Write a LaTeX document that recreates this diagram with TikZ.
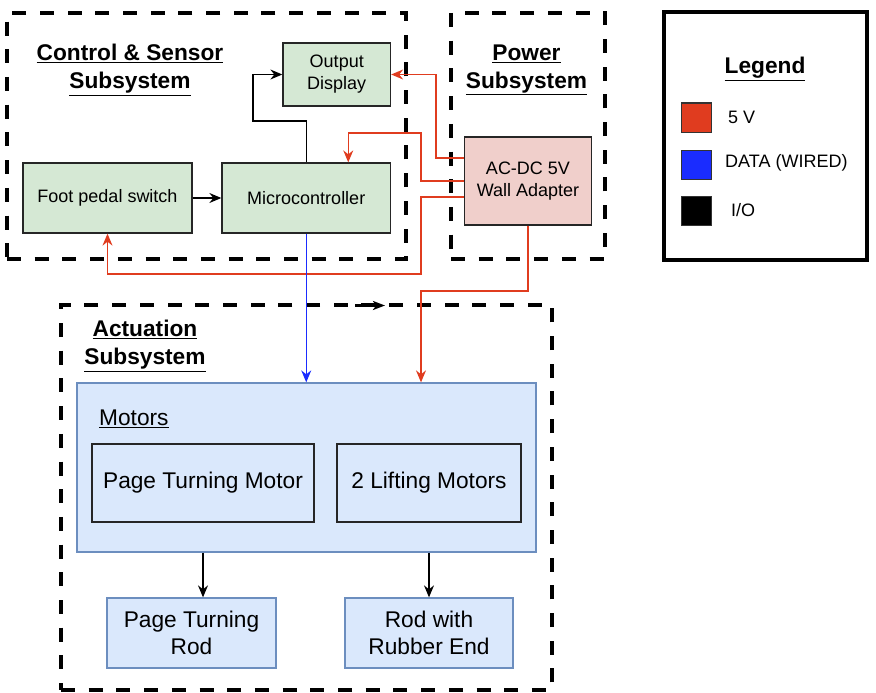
\documentclass[tikz,border=0pt]{standalone}
\usepackage{fontspec}
\setmainfont{Liberation Sans}
\usetikzlibrary{arrows.meta}

\definecolor{fivev}{HTML}{E03C1F}
\definecolor{datab}{HTML}{1A2CFF}
\definecolor{grnfill}{HTML}{D5E8D4}
\definecolor{blufill}{HTML}{DAE8FC}
\definecolor{blustroke}{HTML}{6C8EBF}
\definecolor{redfill}{HTML}{F0CFCB}

\begin{document}
\begin{tikzpicture}
[x=1pt,y=-1pt,
group/.style={draw, line width=4pt, dash pattern=on 14pt off 13.7pt,
inner sep=0pt},
title/.style={font=\bfseries\fontsize{22.7}{28}\selectfont,
align=center, inner sep=0pt},
ctrlblock/.style={rectangle, draw=black!85, line width=1.3pt, fill=grnfill,
font=\fontsize{18}{22}\selectfont, align=center, inner sep=0pt},
pwrblock/.style={ctrlblock, fill=redfill},
motblock/.style={rectangle, draw=black!85, line width=1.3pt, fill=blufill,
font=\fontsize{22.7}{27.5}\selectfont, align=center, inner sep=0pt},
rodblock/.style={motblock, draw=blustroke},
key/.style={rectangle, draw=black!80, line width=1pt,
minimum width=30pt, minimum height=29pt, inner sep=0pt},
keytext/.style={anchor=west, font=\fontsize{18}{22}\selectfont, inner sep=0pt},
line/.style={draw, line width=1.3pt, -{Stealth[length=12pt,width=10pt,inset=4pt]}},
power/.style={line, draw=fivev},
data/.style={line, draw=datab}]
\useasboundingbox (0,0) rectangle (876,693);
% subsystem frames
\node [group, minimum width=399pt, minimum height=246pt] (ctrlgrp) at (206.5,136) {};
\node [group, minimum width=154pt, minimum height=246pt] (pwrgrp) at (528,136) {};
\node [group, minimum width=491pt, minimum height=385pt] (actgrp) at (306.5,497.5) {};
\node [draw, line width=4pt, minimum width=203pt, minimum height=248pt] (legendbox) at (765.5,136) {};
% titles
\node [title] (ctrltitle) at (130,70) {\underline{Control \& Sensor}\\\underline{Subsystem}};
\node [title] (pwrtitle) at (526.5,70) {\underline{Power}\\\underline{Subsystem}};
\node [title] (acttitle) at (145,346) {\underline{Actuation}\\\underline{Subsystem}};
\node [title] (legendtitle) at (765,69) {\underline{Legend}};
% control and sensor blocks
\node [ctrlblock, minimum width=107.5pt, minimum height=63pt] (outdisp) at (336.75,74.5) {Output\\Display};
\node [ctrlblock, minimum width=169pt, minimum height=70pt] (foot) at (107.5,198) {Foot pedal switch};
\node [ctrlblock, minimum width=168.5pt, minimum height=70pt] (micro) at (306.25,198) {Microcontroller};
% power block
\node [pwrblock, minimum width=127pt, minimum height=88pt] (acdc) at (528,181) {AC-DC 5V\\Wall Adapter};
% actuation blocks
\node [rodblock, minimum width=459pt, minimum height=169pt] (motors) at (306.5,467.5) {};
\node [anchor=west, font=\fontsize{22.7}{27.5}\selectfont, inner sep=0pt] (motlabel) at (99,419) {\underline{Motors}};
\node [motblock, minimum width=222pt, minimum height=78pt] (ptmotor) at (203,483) {Page Turning Motor};
\node [motblock, minimum width=184pt, minimum height=78pt] (liftmotor) at (429,483) {2 Lifting Motors};
\node [rodblock, minimum width=169pt, minimum height=70pt] (ptrod) at (191.5,633) {Page Turning\\Rod};
\node [rodblock, minimum width=168pt, minimum height=70pt] (rubrod) at (429,633) {Rod with\\Rubber End};
% legend keys
\node [key, fill=fivev] (keyfive) at (696,117.5) {};
\node [key, fill=datab] (keydata) at (696,164.5) {};
\node [key, fill=black] (keyio) at (696,210.5) {};
\node [keytext] (keyfivetxt) at (728,117) {5 V};
\node [keytext] (keydatatxt) at (725,163) {DATA (WIRED)};
\node [keytext] (keyiotxt) at (731,210) {I/O};
% bend points
\coordinate (bendio) at (253,121);
\coordinate (pwrA) at (436,74.5);
\coordinate (pwrB) at (421,133);
\coordinate (pwrC) at (421,274);
\coordinate (pwrD) at (421,291);
\coordinate (stray) at (355,305.5);
\begin{scope}[every path/.style=line]
\path (foot) -- (micro);
\path (micro.north) |- (bendio) |- (outdisp.west);
\path [power] ([yshift=23pt]acdc.west) -| (pwrA) -- (outdisp.east);
\path [power] (acdc.west) -| (pwrB) -| ([xshift=42pt]micro.north);
\path [power] ([yshift=-16pt]acdc.west) -| (pwrC) -| (foot.south);
\path [power] (acdc.south) |- (pwrD) -- (pwrD |- motors.north);
\path [data] (micro.south) -- (micro.south |- motors.north);
\path (ptmotor.south |- motors.south) -- (ptmotor.south |- ptrod.north);
\path (liftmotor.south |- motors.south) -- (rubrod.north);
\path [line width=2.5pt, -{Stealth[length=12pt,width=9pt,inset=3pt]}] (stray) -- ([xshift=30pt]stray);
\end{scope}
\end{tikzpicture}
\end{document}
